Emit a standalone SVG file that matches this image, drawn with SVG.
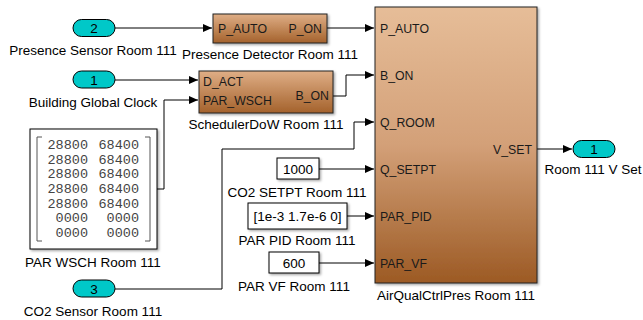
<svg xmlns="http://www.w3.org/2000/svg" width="643" height="320" viewBox="0 0 643 320">
<defs>
<linearGradient id="gBig" x1="0" y1="0" x2="0" y2="1">
<stop offset="0" stop-color="#e6bd98"/>
<stop offset="0.5" stop-color="#d3a078"/>
<stop offset="1" stop-color="#9c5a24"/>
</linearGradient>
<linearGradient id="gSmall" x1="0" y1="0" x2="0" y2="1">
<stop offset="0" stop-color="#dfae86"/>
<stop offset="1" stop-color="#a4622c"/>
</linearGradient>
<filter id="sh" x="-10%" y="-10%" width="130%" height="130%">
<feDropShadow dx="1.5" dy="1.5" stdDeviation="1" flood-color="#000" flood-opacity="0.35"/>
</filter>
<marker id="arr" markerWidth="10" markerHeight="8" refX="9" refY="4" orient="auto" markerUnits="userSpaceOnUse">
<path d="M0,0 L9,4 L0,8 Z" fill="#000"/>
</marker>
</defs>
<style>
.lbl{font-family:"Liberation Sans",Arial,sans-serif;font-size:13.5px;fill:#000}
.port{font-family:"Liberation Sans",Arial,sans-serif;font-size:12.3px;fill:#1a1a1a}
.num{font-family:"Liberation Sans",Arial,sans-serif;font-size:13.5px;fill:#000}
.mono{font-family:"Liberation Mono","Courier New",monospace;font-size:13.5px;fill:#444}
.io{fill:#00c8c8;stroke:#000;stroke-width:1}
.blk{stroke:#222;stroke-width:1}
.cst{fill:#fff;stroke:#000;stroke-width:1}
.wire{fill:none;stroke:#000;stroke-width:1}
</style>

<g id="connectors">
<path class="wire" d="M115,28 H212" marker-end="url(#arr)"/>
<path class="wire" d="M327,28 H374" marker-end="url(#arr)"/>
<path class="wire" d="M115,80 H198" marker-end="url(#arr)"/>
<path class="wire" d="M157,189 H164 V100 H198" marker-end="url(#arr)"/>
<path class="wire" d="M333,96 H346 V75 H374" marker-end="url(#arr)"/>
<path class="wire" d="M115,289 H222 V149 H354 V122 H374" marker-end="url(#arr)"/>
<path class="wire" d="M319,169 H374" marker-end="url(#arr)"/>
<path class="wire" d="M347,216 H374" marker-end="url(#arr)"/>
<path class="wire" d="M319,263 H374" marker-end="url(#arr)"/>
<path class="wire" d="M537,149 H572" marker-end="url(#arr)"/>
</g>

<g id="in2">
<rect class="io" x="73" y="19.5" width="42" height="17" rx="8.5"/>
<text class="num" x="94" y="33" text-anchor="middle">2</text>
<text class="lbl" x="93" y="55" text-anchor="middle">Presence Sensor Room 111</text>
</g>

<g id="in1">
<rect class="io" x="73" y="71" width="42" height="17" rx="8.5"/>
<text class="num" x="94" y="84.5" text-anchor="middle">1</text>
<text class="lbl" x="93" y="107" text-anchor="middle">Building Global Clock</text>
</g>

<g id="in3">
<rect class="io" x="73" y="280" width="42" height="17" rx="8.5"/>
<text class="num" x="94" y="293.5" text-anchor="middle">3</text>
<text class="lbl" x="93" y="316" text-anchor="middle">CO2 Sensor Room 111</text>
</g>

<g id="presenceDetector">
<rect class="blk" x="213" y="14" width="114" height="29" fill="url(#gSmall)" filter="url(#sh)"/>
<text class="port" x="218" y="33">P_AUTO</text>
<text class="port" x="322" y="33" text-anchor="end">P_ON</text>
<text class="lbl" x="270" y="59" text-anchor="middle">Presence Detector Room 111</text>
</g>

<g id="scheduler">
<rect class="blk" x="199" y="71" width="134" height="42" fill="url(#gSmall)" filter="url(#sh)"/>
<text class="port" x="203" y="86">D_ACT</text>
<text class="port" x="203" y="105">PAR_WSCH</text>
<text class="port" x="329" y="100" text-anchor="end">B_ON</text>
<text class="lbl" x="266" y="129" text-anchor="middle">SchedulerDoW Room 111</text>
</g>

<g id="parWsch">
<rect class="cst" x="30" y="129" width="127" height="120" filter="url(#sh)"/>
<path d="M42,137 H37 V241 H42 M145,137 H150 V241 H145" fill="none" stroke="#555" stroke-width="1"/>
<text class="mono" x="88" y="148.5" text-anchor="end">28800</text>
<text class="mono" x="139" y="148.5" text-anchor="end">68400</text>
<text class="mono" x="88" y="163.5" text-anchor="end">28800</text>
<text class="mono" x="139" y="163.5" text-anchor="end">68400</text>
<text class="mono" x="88" y="178" text-anchor="end">28800</text>
<text class="mono" x="139" y="178" text-anchor="end">68400</text>
<text class="mono" x="88" y="193" text-anchor="end">28800</text>
<text class="mono" x="139" y="193" text-anchor="end">68400</text>
<text class="mono" x="88" y="207.5" text-anchor="end">28800</text>
<text class="mono" x="139" y="207.5" text-anchor="end">68400</text>
<text class="mono" x="88" y="222" text-anchor="end">0000</text>
<text class="mono" x="139" y="222" text-anchor="end">0000</text>
<text class="mono" x="88" y="237" text-anchor="end">0000</text>
<text class="mono" x="139" y="237" text-anchor="end">0000</text>
<text class="lbl" x="93" y="267" text-anchor="middle">PAR WSCH Room 111</text>
</g>

<g id="co2Setpt">
<rect class="cst" x="277" y="158" width="42" height="21" filter="url(#sh)"/>
<text class="num" x="298" y="173.5" text-anchor="middle">1000</text>
<text class="lbl" x="297" y="197" text-anchor="middle">CO2 SETPT Room 111</text>
</g>

<g id="parPid">
<rect class="cst" x="248" y="203" width="99" height="26" filter="url(#sh)"/>
<text class="num" x="297.5" y="221" text-anchor="middle">[1e-3 1.7e-6 0]</text>
<text class="lbl" x="297" y="245" text-anchor="middle">PAR PID Room 111</text>
</g>

<g id="parVf">
<rect class="cst" x="269" y="252" width="50" height="21" filter="url(#sh)"/>
<text class="num" x="294" y="267.5" text-anchor="middle">600</text>
<text class="lbl" x="294" y="291" text-anchor="middle">PAR VF Room 111</text>
</g>

<g id="airQualCtrl">
<rect class="blk" x="375" y="7" width="162" height="276" fill="url(#gBig)" filter="url(#sh)"/>
<text class="port" x="380" y="33">P_AUTO</text>
<text class="port" x="380" y="80">B_ON</text>
<text class="port" x="380" y="127">Q_ROOM</text>
<text class="port" x="380" y="174">Q_SETPT</text>
<text class="port" x="380" y="221">PAR_PID</text>
<text class="port" x="380" y="268">PAR_VF</text>
<text class="port" x="532" y="154" text-anchor="end">V_SET</text>
<text class="lbl" x="456" y="300" text-anchor="middle">AirQualCtrlPres Room 111</text>
</g>

<g id="out1">
<rect class="io" x="573" y="140.5" width="42" height="17" rx="8.5"/>
<text class="num" x="594" y="154" text-anchor="middle">1</text>
<text class="lbl" x="593" y="174" text-anchor="middle">Room 111 V Set</text>
</g>
</svg>
